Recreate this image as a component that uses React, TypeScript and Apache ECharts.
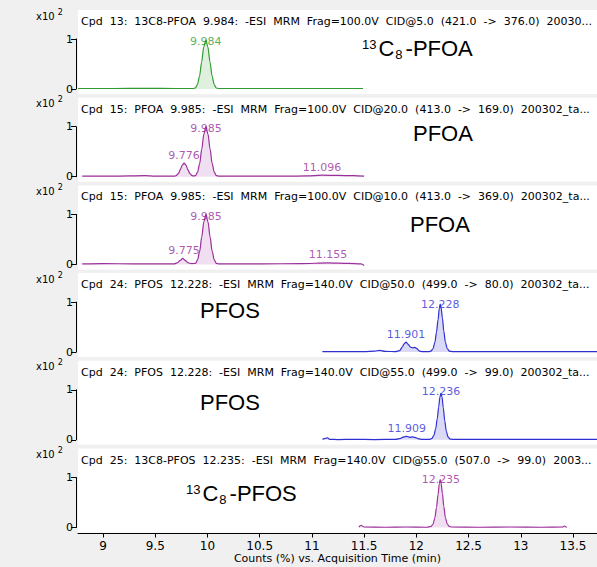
import React, { useEffect, useRef } from "react";
import * as echarts from "echarts";

// ---- axis ranges & ticks ----
const X_MIN = 8.76;
const X_MAX = 13.73;
const xTickValues = [9, 9.5, 10, 10.5, 11, 11.5, 12, 12.5, 13, 13.5];
const xAxisName = "Counts (%) vs. Acquisition Time (min)";
const yScaleLabel = "x10{s|2}";

// ---- panel headers ----
const panelTitles = [
  "Cpd  13:  13C8-PFOA  9.984:  -ESI  MRM  Frag=100.0V  CID@5.0  (421.0  ->  376.0)  20030...",
  "Cpd  15:  PFOA  9.985:  -ESI  MRM  Frag=100.0V  CID@20.0  (413.0  ->  169.0)  200302_ta...",
  "Cpd  15:  PFOA  9.985:  -ESI  MRM  Frag=100.0V  CID@10.0  (413.0  ->  369.0)  200302_ta...",
  "Cpd  24:  PFOS  12.228:  -ESI  MRM  Frag=140.0V  CID@50.0  (499.0  ->  80.0)  200302_ta...",
  "Cpd  24:  PFOS  12.228:  -ESI  MRM  Frag=140.0V  CID@55.0  (499.0  ->  99.0)  200302_ta...",
  "Cpd  25:  13C8-PFOS  12.235:  -ESI  MRM  Frag=140.0V  CID@55.0  (507.0  ->  99.0)  2003...",
];
const compoundNames = [
  "{sup|13}C{sub|8}-PFOA",
  "PFOA",
  "PFOA",
  "PFOS",
  "PFOS",
  "{sup|13}C{sub|8}-PFOS",
];

// ---- chromatogram traces [time (min), counts x10^2] ----
const trace1: [number, number][] = [
  [8.76, 0.01], [9.1, 0.01], [9.4, 0.012], [9.7, 0.01], [9.86, 0.01],
  [9.884, 0.02], [9.904, 0.09], [9.924, 0.26], [9.944, 0.54], [9.964, 0.84],
  [9.984, 0.98], [10.004, 0.84], [10.024, 0.54], [10.044, 0.26], [10.064, 0.09],
  [10.084, 0.02], [10.11, 0.01], [10.4, 0.01], [10.8, 0.01], [11.2, 0.01], [11.49, 0.01],
];
const trace2: [number, number][] = [
  [8.8, 0.01], [9.1, 0.01], [9.4, 0.02], [9.5, 0.01], [9.68, 0.01],
  [9.7, 0.02], [9.72, 0.06], [9.74, 0.14], [9.758, 0.23], [9.776, 0.27],
  [9.794, 0.23], [9.812, 0.14], [9.832, 0.06], [9.852, 0.02], [9.87, 0.015],
  [9.885, 0.02], [9.905, 0.09], [9.925, 0.26], [9.945, 0.55], [9.965, 0.85],
  [9.985, 1.0], [10.005, 0.85], [10.025, 0.55], [10.045, 0.26], [10.065, 0.09],
  [10.085, 0.02], [10.11, 0.01], [10.4, 0.01], [10.75, 0.01], [10.95, 0.015],
  [11.096, 0.03], [11.25, 0.025], [11.4, 0.02], [11.5, 0.01],
];
const trace3: [number, number][] = [
  [8.8, 0.01], [9.0, 0.015], [9.3, 0.01], [9.6, 0.01], [9.68, 0.01],
  [9.71, 0.03], [9.74, 0.08], [9.763, 0.12], [9.786, 0.08], [9.815, 0.03],
  [9.85, 0.015], [9.885, 0.02], [9.905, 0.09], [9.925, 0.26], [9.945, 0.55],
  [9.965, 0.85], [9.985, 1.0], [10.005, 0.85], [10.025, 0.55], [10.045, 0.26],
  [10.065, 0.09], [10.085, 0.02], [10.11, 0.01], [10.5, 0.01], [10.9, 0.015],
  [11.155, 0.03], [11.35, 0.02], [11.47, 0.01], [11.5, -0.02],
];
const trace4: [number, number][] = [
  [11.1, 0.01], [11.3, 0.01], [11.5, 0.01], [11.6, 0.02], [11.65, 0.035],
  [11.7, 0.015], [11.8, 0.01], [11.84, 0.03], [11.865, 0.1], [11.885, 0.17],
  [11.901, 0.2], [11.92, 0.16], [11.945, 0.1], [11.965, 0.085], [11.985, 0.095],
  [12.005, 0.07], [12.03, 0.02], [12.06, 0.01], [12.12, 0.01], [12.14, 0.02],
  [12.16, 0.07], [12.178, 0.2], [12.193, 0.4], [12.208, 0.65], [12.22, 0.88],
  [12.228, 0.96], [12.236, 0.9], [12.25, 0.68], [12.263, 0.42], [12.278, 0.2],
  [12.296, 0.07], [12.316, 0.02], [12.35, 0.01], [12.6, 0.01], [13.0, 0.01],
  [13.4, 0.01], [13.73, 0.01],
];
const trace5: [number, number][] = [
  [11.1, 0.01], [11.13, 0.03], [11.15, 0.04], [11.17, 0.01], [11.25, 0.005],
  [11.4, 0.01], [11.6, 0.005], [11.8, 0.01], [11.85, 0.03], [11.88, 0.06],
  [11.909, 0.07], [11.935, 0.05], [11.96, 0.06], [11.985, 0.05], [12.02, 0.02],
  [12.06, 0.01], [12.13, 0.01], [12.15, 0.03], [12.168, 0.09], [12.185, 0.22],
  [12.2, 0.42], [12.214, 0.66], [12.226, 0.86], [12.236, 0.93], [12.246, 0.86],
  [12.258, 0.64], [12.272, 0.38], [12.287, 0.17], [12.303, 0.06], [12.322, 0.015],
  [12.35, 0.01], [12.7, 0.01], [13.1, 0.01], [13.5, 0.01], [13.73, 0.01],
];
const trace6: [number, number][] = [
  [11.45, 0.01], [11.47, 0.045], [11.5, 0.01], [11.7, 0.005], [11.9, 0.01],
  [12.1, 0.005], [12.14, 0.02], [12.16, 0.07], [12.178, 0.2], [12.193, 0.4],
  [12.208, 0.66], [12.22, 0.88], [12.228, 0.96], [12.236, 0.9], [12.25, 0.68],
  [12.263, 0.42], [12.278, 0.2], [12.296, 0.07], [12.316, 0.02], [12.34, 0.01],
  [12.6, 0.005], [12.9, 0.01], [13.2, 0.005], [13.4, 0.01], [13.42, 0.03], [13.44, 0.0],
];

// ---- annotated peaks ----
const peakTimes1 = [9.984];
const peakHeights1 = [0.98];
const peakTimes2 = [9.776, 9.985, 11.096];
const peakHeights2 = [0.27, 1.0, 0.03];
const peakTimes3 = [9.775, 9.985, 11.155];
const peakHeights3 = [0.12, 1.0, 0.03];
const peakTimes4 = [11.901, 12.228];
const peakHeights4 = [0.2, 0.96];
const peakTimes5 = [11.909, 12.236];
const peakHeights5 = [0.07, 0.93];
const peakTimes6 = [12.235];
const peakHeights6 = [0.96];

const traces = [trace1, trace2, trace3, trace4, trace5, trace6];
const peakTimes = [peakTimes1, peakTimes2, peakTimes3, peakTimes4, peakTimes5, peakTimes6];
const peakHeights = [peakHeights1, peakHeights2, peakHeights3, peakHeights4, peakHeights5, peakHeights6];

// ---- styling ----
const GREEN = "#2f9a2f";
const PURPLE = "#9a2e9a";
const BLUE = "#2f2fd4";
const lineColors = [GREEN, PURPLE, PURPLE, BLUE, BLUE, PURPLE];
const fillColors = [
  "rgba(47,154,47,0.22)",
  "rgba(154,46,154,0.22)",
  "rgba(154,46,154,0.22)",
  "rgba(47,47,212,0.25)",
  "rgba(47,47,212,0.25)",
  "rgba(154,46,154,0.22)",
];
const namePos: [number, number][] = [
  [362, 35], [413, 120], [410, 211], [200, 297], [200, 389], [186, 480],
];
const FONT = "DejaVu Sans";
const BIG_FONT = "Liberation Sans";

export default function App() {
  const ref = useRef<HTMLDivElement>(null);
  useEffect(() => {
    if (!ref.current) return;
    const chart = echarts.init(ref.current, undefined, { renderer: "svg" });
    const grid: any[] = [];
    const xAxis: any[] = [];
    const yAxis: any[] = [];
    const series: any[] = [];
    const title: any[] = [];
    traces.forEach((data, i) => {
      const zeroY = 89 + 87.7 * i;
      const last = i === traces.length - 1;
      grid.push({
        left: 78, right: 0, top: zeroY - 79, height: 84,
        show: true, backgroundColor: "#ffffff", borderWidth: 0,
      });
      grid.push({ left: 76, width: 1, top: zeroY - 50, height: 50 });
      xAxis.push({
        gridIndex: 2 * i, type: "value", min: X_MIN, max: X_MAX,
        show: last,
        axisLine: { show: true, onZero: false, lineStyle: { color: "#000", width: 1 } },
        axisTick: { show: true, length: 4, customValues: xTickValues, lineStyle: { color: "#000" } },
        axisLabel: { show: true, customValues: xTickValues, margin: 6, color: "#000", fontSize: 12, fontFamily: FONT },
        splitLine: { show: false },
        offset: 1,
        name: last ? xAxisName : "",
        nameLocation: "middle",
        nameGap: 19,
        nameTextStyle: { color: "#000", fontSize: 11, fontFamily: FONT },
      });
      xAxis.push({ gridIndex: 2 * i + 1, type: "value", min: 0, max: 1, show: false });
      yAxis.push({ gridIndex: 2 * i, type: "value", min: -0.1, max: 1.58, show: false });
      yAxis.push({
        gridIndex: 2 * i + 1, type: "value", min: 0, max: 1, interval: 1,
        axisLine: { show: true, lineStyle: { color: "#000", width: 1 } },
        axisTick: { show: true, length: 5, lineStyle: { color: "#000" } },
        axisLabel: { margin: 3, color: "#000", fontSize: 11, fontFamily: FONT },
        splitLine: { show: false },
      });
      series.push({
        type: "line", xAxisIndex: 2 * i, yAxisIndex: 2 * i, data,
        showSymbol: false, smooth: 0.3, smoothMonotone: "x", silent: true,
        lineStyle: { color: lineColors[i], width: 1.2 },
        areaStyle: { color: fillColors[i] },
      });
      series.push({
        type: "scatter", xAxisIndex: 2 * i, yAxisIndex: 2 * i,
        data: peakTimes[i].map((t, k) => [t, Math.min(peakHeights[i][k] + 0.04, 0.84)]),
        symbolSize: 1, itemStyle: { color: "rgba(0,0,0,0)" }, silent: true,
        label: {
          show: true, position: "top", distance: 0, color: lineColors[i],
          fontSize: 11, fontFamily: FONT,
          formatter: (p: any) => p.value[0].toFixed(3),
        },
      });
      title.push({
        text: panelTitles[i], left: 81, top: zeroY - 73, padding: 0,
        textStyle: { color: "#000", fontSize: 11, fontWeight: "normal", fontFamily: FONT },
      });
      title.push({
        text: yScaleLabel, left: 36, top: zeroY - 81, padding: 0,
        textStyle: {
          color: "#000", fontSize: 10, fontWeight: "normal", fontFamily: FONT, lineHeight: 16,
          rich: { s: { fontSize: 8, lineHeight: 10, verticalAlign: "top", padding: [0, 0, 0, 3], fontFamily: FONT, color: "#000" } },
        },
      });
      title.push({
        text: compoundNames[i], left: namePos[i][0], top: namePos[i][1], padding: 0,
        textStyle: {
          color: "#000", fontSize: 22, fontWeight: "normal", fontFamily: BIG_FONT, lineHeight: 26,
          rich: {
            sup: { fontSize: 13, lineHeight: 13, verticalAlign: "top", fontFamily: BIG_FONT, color: "#000", padding: [3, 2, 0, 0] },
            sub: { fontSize: 13, lineHeight: 13, verticalAlign: "bottom", fontFamily: BIG_FONT, color: "#000", padding: [0, 3, 0, 1] },
          },
        },
      });
    });
    chart.setOption({
      animation: false,
      backgroundColor: "#f0f0f0",
      title, grid, xAxis, yAxis, series,
    });
    return () => chart.dispose();
  }, []);
  return <div ref={ref} style={{ position: "fixed", left: 0, top: 0, width: 597, height: 567 }} />;
}
